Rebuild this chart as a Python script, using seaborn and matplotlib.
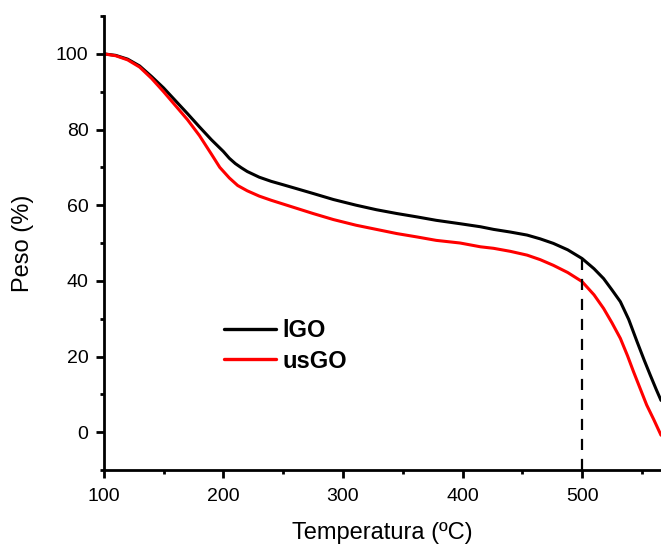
import numpy as np
import pandas as pd
import matplotlib
matplotlib.use("Agg")
import matplotlib.pyplot as plt
from matplotlib.ticker import MultipleLocator
import seaborn as sns

temp_igo = [100, 110, 120, 130, 140, 150, 160, 170, 180, 190, 200, 205, 210, 215, 220,
            230, 240, 250, 262, 275, 292, 311, 328, 345, 362, 378, 398, 415, 426, 440,
            454, 465, 476, 488, 500, 510, 518, 525, 532, 539, 546, 552, 557, 562, 566]
peso_igo = [100, 99.6, 98.6, 96.8, 94.0, 91.0, 87.6, 84.2, 80.7, 77.3, 74.2, 72.4, 71.0,
            69.9, 68.9, 67.4, 66.3, 65.4, 64.3, 63.1, 61.5, 60.0, 58.8, 57.8, 56.9, 56.0,
            55.1, 54.3, 53.6, 52.9, 52.1, 51.1, 49.9, 48.2, 45.9, 43.2, 40.6, 37.6, 34.5,
            29.8, 23.9, 19.0, 15.1, 11.3, 8.4]

temp_usgo = [100, 110, 120, 130, 140, 150, 160, 170, 180, 190, 197, 205, 212, 220, 230,
             240, 250, 262, 275, 292, 311, 328, 345, 362, 378, 398, 415, 426, 440, 454,
             465, 476, 488, 500, 510, 518, 525, 532, 538, 543, 549, 554, 560, 566]
peso_usgo = [100, 99.5, 98.4, 96.5, 93.5, 90.0, 86.3, 82.6, 78.4, 73.5, 70.0, 67.2, 65.2,
             63.8, 62.4, 61.3, 60.3, 59.1, 57.8, 56.2, 54.7, 53.6, 52.5, 51.6, 50.7, 50.0,
             49.0, 48.6, 47.8, 46.8, 45.6, 44.1, 42.2, 39.8, 36.3, 32.7, 28.9, 24.8, 20.2,
             16.0, 11.2, 7.2, 3.3, -0.8]

corte_temp = 500
corte_peso = 46.0

df = pd.concat([
    pd.DataFrame({"Temperatura": temp_igo, "Peso": peso_igo, "Muestra": "lGO"}),
    pd.DataFrame({"Temperatura": temp_usgo, "Peso": peso_usgo, "Muestra": "usGO"}),
])

sns.set_style("ticks")
plt.rcParams["font.family"] = ["Liberation Sans", "DejaVu Sans"]
plt.rcParams.update({"text.color": "black", "axes.labelcolor": "black",
                     "xtick.color": "black", "ytick.color": "black",
                     "axes.edgecolor": "black"})

fig = plt.figure(figsize=(6.61, 5.45), dpi=100)
ax = fig.add_axes([0.157, 0.1376, 0.843, 0.833])

sns.lineplot(data=df, x="Temperatura", y="Peso", hue="Muestra",
             palette={"lGO": "black", "usGO": "#ff0000"}, linewidth=2.2, ax=ax)
for line in ax.get_lines():
    line.set_solid_joinstyle("round")

ax.vlines(corte_temp, -10, corte_peso, colors="black", linestyles=(0, (5, 4)), linewidth=1.6)

ax.set_xlim(100, 566)
ax.set_ylim(-10, 110)
ax.xaxis.set_major_locator(MultipleLocator(100))
ax.xaxis.set_minor_locator(MultipleLocator(50))
ax.set_yticks([0, 20, 40, 60, 80, 100])
ax.yaxis.set_minor_locator(MultipleLocator(10))

sns.despine(ax=ax)
for s in ["left", "bottom"]:
    ax.spines[s].set_linewidth(2)
ax.tick_params(which="major", length=6, width=2, labelsize=14, direction="out")
ax.tick_params(which="minor", length=3, width=2, direction="out")
ax.tick_params(axis="x", which="major", pad=7)
ax.tick_params(axis="y", which="major", pad=5)

ax.set_xlabel("Temperatura (ºC)", fontsize=17, labelpad=12)
ax.set_ylabel("Peso (%)", fontsize=17, labelpad=16)

leg = ax.legend(loc="upper left", bbox_to_anchor=(0.2154, 0.333), frameon=False,
                borderpad=0, borderaxespad=0,
                handlelength=2.2, handletextpad=0.3, labelspacing=0.33,
                prop={"weight": "bold", "size": 17})
for line in leg.get_lines():
    line.set_linewidth(2.4)

fig.savefig("out.png", dpi=100)
